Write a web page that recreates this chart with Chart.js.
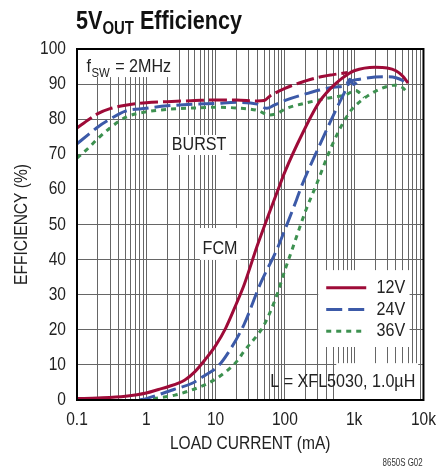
<!DOCTYPE html>
<html><head><meta charset="utf-8">
<script src="https://cdn.jsdelivr.net/npm/chart.js@4.4.1/dist/chart.umd.min.js"></script>
<style>
html,body{margin:0;padding:0;background:#fff;}
#wrap{position:relative;width:445px;height:470px;overflow:hidden;}
#c{position:absolute;left:0;top:0;}
#title{position:absolute;left:76px;top:5px;font-family:"Liberation Sans",Arial,sans-serif;font-weight:bold;font-size:26px;line-height:30px;color:#111;white-space:nowrap;transform:scaleX(0.83);transform-origin:0 0;}
#title sub{font-size:18px;vertical-align:-5px;line-height:0;}
#foot{position:absolute;right:22px;top:456px;font-family:"Liberation Sans",Arial,sans-serif;font-size:11px;line-height:13px;color:#333;transform:scaleX(0.72);transform-origin:100% 0;}
</style></head>
<body>
<div id="wrap">
<canvas id="c" width="445" height="470"></canvas>
<div id="title">5V<sub>OUT</sub> Efficiency</div>
<div id="foot">8650S G02</div>
</div>
<script>
// ---- data (load current mA, efficiency %) ----
const burst12X = [0.1, 0.15, 0.2, 0.3, 0.5, 1, 2, 5, 10, 20, 40, 50, 60, 100, 200, 300, 500, 800];
const burst12Y = [77.5, 80, 81.6, 83, 84, 84.7, 85, 85.3, 85.5, 85.5, 85.2, 85.3, 86.5, 88.8, 90.9, 91.9, 92.7, 93.3];
const fcm12X = [0.1, 0.2, 0.5, 1, 1.5, 2, 3.6, 5, 7, 10, 14, 20, 26, 40, 60, 80, 100, 180, 316, 544, 840, 1000, 2000, 3000, 4000, 5000, 6000];
const fcm12Y = [0.4, 0.6, 1.1, 2.0, 3.0, 3.7, 5.7, 8, 11.4, 15.5, 20.5, 27.5, 33, 44, 53.5, 60, 65, 76, 85, 90.2, 93, 93.8, 94.8, 94.6, 93.8, 92.3, 90.3];
const burst24X = [0.1, 0.15, 0.2, 0.3, 0.5, 1, 2, 5, 10, 20, 40, 55, 70, 106, 200, 316, 544, 755, 870, 980, 1200];
const burst24Y = [73, 75.8, 77.8, 80, 82.3, 83.1, 83.8, 84.3, 84.5, 84.8, 84.3, 83.1, 84, 85.5, 87.2, 88.3, 89.2, 89.6, 91.4, 89.9, 91.4];
const fcm24X = [0.8, 1, 1.5, 2.5, 4.5, 7, 10.7, 15, 25.7, 44, 77, 100, 147, 173, 316, 544, 700, 870, 1200, 2000, 3000, 4000, 5000, 6000];
const fcm24Y = [0, 0.4, 1.5, 3.0, 4.7, 7, 9.5, 13.3, 21.5, 33, 43, 48.5, 57, 60.8, 72.5, 82.6, 87, 90.6, 91.4, 92, 92.1, 91.8, 91, 89.7];
const burst36X = [0.1, 0.15, 0.2, 0.3, 0.5, 1, 2, 5, 10, 20, 40, 60, 80, 106, 200, 316, 544, 755, 1050, 1200, 1400];
const burst36Y = [68.9, 72, 74.5, 77.5, 80.5, 82.1, 82.8, 83.2, 83.4, 83.2, 82.5, 81.2, 81.8, 83.1, 84.6, 85.5, 86.4, 86.9, 88.2, 87.5, 86.2];
const fcm36X = [0.9, 1.5, 2.6, 4, 7.7, 15, 21, 26, 40, 49, 77, 100, 118, 150, 200, 280, 490, 840, 1300, 2500, 3900, 5000, 5700];
const fcm36Y = [0, 0.6, 1.4, 2.5, 4.7, 8.5, 11.4, 14, 18.5, 21, 30, 37, 41, 47, 54, 61, 73, 81.7, 85.5, 88.8, 89.7, 89, 87.8];

const seriesNames = ['12V', '24V', '36V'];
const xTickValues = [0.1, 1, 10, 100, 1000, 10000];
const xTickLabels = ['0.1', '1', '10', '100', '1k', '10k'];
const yTickStep = 10;

const FF = '"Liberation Sans", Arial, sans-serif';
Chart.defaults.font.family = FF;
const SX = 0.84; // narrow (condensed) text look

const canvas = document.getElementById('c');
const cx = canvas.getContext('2d');
const origFill = cx.fillText.bind(cx), origMeasure = cx.measureText.bind(cx);
cx.fillText = function(t, x, y, mw){
  this.save(); this.translate(x, y); this.scale(SX, 1);
  if (mw === undefined) origFill(t, 0, 0); else origFill(t, 0, 0, mw / SX);
  this.restore();
};
cx.measureText = function(t){
  const m = origMeasure(t);
  return {width: m.width*SX, actualBoundingBoxLeft: m.actualBoundingBoxLeft*SX, actualBoundingBoxRight: m.actualBoundingBoxRight*SX,
    actualBoundingBoxAscent: m.actualBoundingBoxAscent, actualBoundingBoxDescent: m.actualBoundingBoxDescent,
    fontBoundingBoxAscent: m.fontBoundingBoxAscent, fontBoundingBoxDescent: m.fontBoundingBoxDescent};
};

const RED = '#9e0b38', BLUE = '#3c5aa8', GREEN = '#3d9150';
const zip = (xs, ys) => xs.map((x, i) => ({x, y: ys[i]}));
const xGrid = [];
[0.1, 1, 10, 100, 1000].forEach(d => { for (let k = 1; k <= 9; k++) xGrid.push(k === 1 ? d : +(k*d).toPrecision(6)); });
xGrid.push(10000);

const styles = {
  '12V': {color: RED, dash: []},
  '24V': {color: BLUE, dash: [16, 6]},
  '36V': {color: GREEN, dash: [5, 5]}
};

const datasets = [
  {label: '12V FCM', data: zip(fcm12X, fcm12Y), borderColor: RED, borderDash: []},
  {label: '12V Burst', data: zip(burst12X, burst12Y), borderColor: RED, borderDash: [18, 5]},
  {label: '24V FCM', data: zip(fcm24X, fcm24Y), borderColor: BLUE, borderDash: styles['24V'].dash},
  {label: '24V Burst', data: zip(burst24X, burst24Y), borderColor: BLUE, borderDash: styles['24V'].dash},
  {label: '36V FCM', data: zip(fcm36X, fcm36Y), borderColor: GREEN, borderDash: styles['36V'].dash},
  {label: '36V Burst', data: zip(burst36X, burst36Y), borderColor: GREEN, borderDash: styles['36V'].dash}
];

const TXT = '#222', FS = 18.5, FA = 19.2;

const annot = {
  id: 'annot',
  beforeDatasetsDraw(chart){
    const {ctx} = chart;
    const xs = chart.scales.x, ys = chart.scales.y;
    const X = v => xs.getPixelForValue(v), Y = v => ys.getPixelForValue(v);
    ctx.save();
    ctx.fillStyle = '#fff';
    const box = (x0, x1, y0, y1) => ctx.fillRect(X(x0), Y(y1), X(x1)-X(x0), Y(y0)-Y(y1));
    box(0.1, 2.72, 92.0, 100);      // fSW
    box(2.09, 15.8, 69.8, 75.5);    // BURST
    box(5.93, 22.9, 39.9, 49);      // FCM
    box(551, 8390, 0, 10.5);        // L =
    box(303, 6300, 15.1, 37);       // legend
    ctx.fillStyle = TXT;
    // fSW = 2MHz
    ctx.textAlign = 'left'; ctx.textBaseline = 'alphabetic';
    let x = X(0.137); const yb = Y(93.4);
    ctx.font = FA+'px '+FF; ctx.fillText('f', x, yb); x += ctx.measureText('f').width + 0.5;
    ctx.font = '13.5px '+FF; ctx.fillText('SW', x, yb+4.4); x += ctx.measureText('SW').width + 1;
    ctx.font = FA+'px '+FF; ctx.fillText(' = 2MHz', x, yb);
    ctx.textAlign = 'center'; ctx.textBaseline = 'middle';
    ctx.fillText('BURST', X(5.78), Y(72.6));
    ctx.fillText('FCM', X(11.6), Y(43.2));
    ctx.fillText('L = XFL5030, 1.0\u00B5H', X(684), Y(5.1));
    // legend
    const rows = [32, 25.8, 19.6];
    seriesNames.forEach((n, i) => {
      const st = styles[n];
      ctx.beginPath(); ctx.strokeStyle = st.color; ctx.lineWidth = 3; ctx.setLineDash(st.dash);
      ctx.moveTo(X(395), Y(rows[i])); ctx.lineTo(X(1493), Y(rows[i])); ctx.stroke();
      ctx.setLineDash([]);
      ctx.textAlign = 'left'; ctx.fillStyle = TXT;
      ctx.fillText(n, X(2100), Y(rows[i]));
    });
    ctx.restore();
  },
  afterDatasetsDraw(chart){
    const {ctx, chartArea: a} = chart;
    ctx.save(); ctx.strokeStyle = '#000'; ctx.lineWidth = 2;
    ctx.strokeRect(a.left, a.top, a.right-a.left, a.bottom-a.top);
    ctx.restore();
  }
};

new Chart(canvas, {
  type: 'line',
  data: {datasets},
  plugins: [annot],
  options: {
    responsive: false, animation: false, devicePixelRatio: 1,
    layout: {padding: {top: 49, right: 16, left: 0, bottom: 0}},
    plugins: {legend: {display: false}, tooltip: {enabled: false}},
    elements: {point: {radius: 0}, line: {borderWidth: 3, cubicInterpolationMode: 'monotone', fill: false}},
    scales: {
      x: {
        type: 'logarithmic', min: 0.1, max: 10000,
        afterBuildTicks: s => { s.ticks = xGrid.map(v => ({value: v})); },
        afterFit: s => { s.height = 70; },
        ticks: {autoSkip: false, maxRotation: 0, padding: 9, color: TXT, font: {size: FS},
          callback: v => { const i = xTickValues.indexOf(v); return i >= 0 ? xTickLabels[i] : ''; }},
        grid: {color: '#666', lineWidth: 1, drawTicks: false},
        border: {display: false},
        title: {display: true, text: 'LOAD CURRENT (mA)', color: TXT, font: {size: FS}, padding: {top: 0, bottom: 15}}
      },
      y: {
        min: 0, max: 100,
        afterFit: s => { s.width = 77; },
        ticks: {stepSize: yTickStep, padding: 11, color: TXT, font: {size: FS}},
        grid: {color: '#666', lineWidth: 1, drawTicks: false},
        border: {display: false},
        title: {display: true, text: 'EFFICIENCY (%)', color: TXT, font: {size: FS}, padding: {top: 11, bottom: 0}}
      }
    }
  }
});
</script>
</body></html>
